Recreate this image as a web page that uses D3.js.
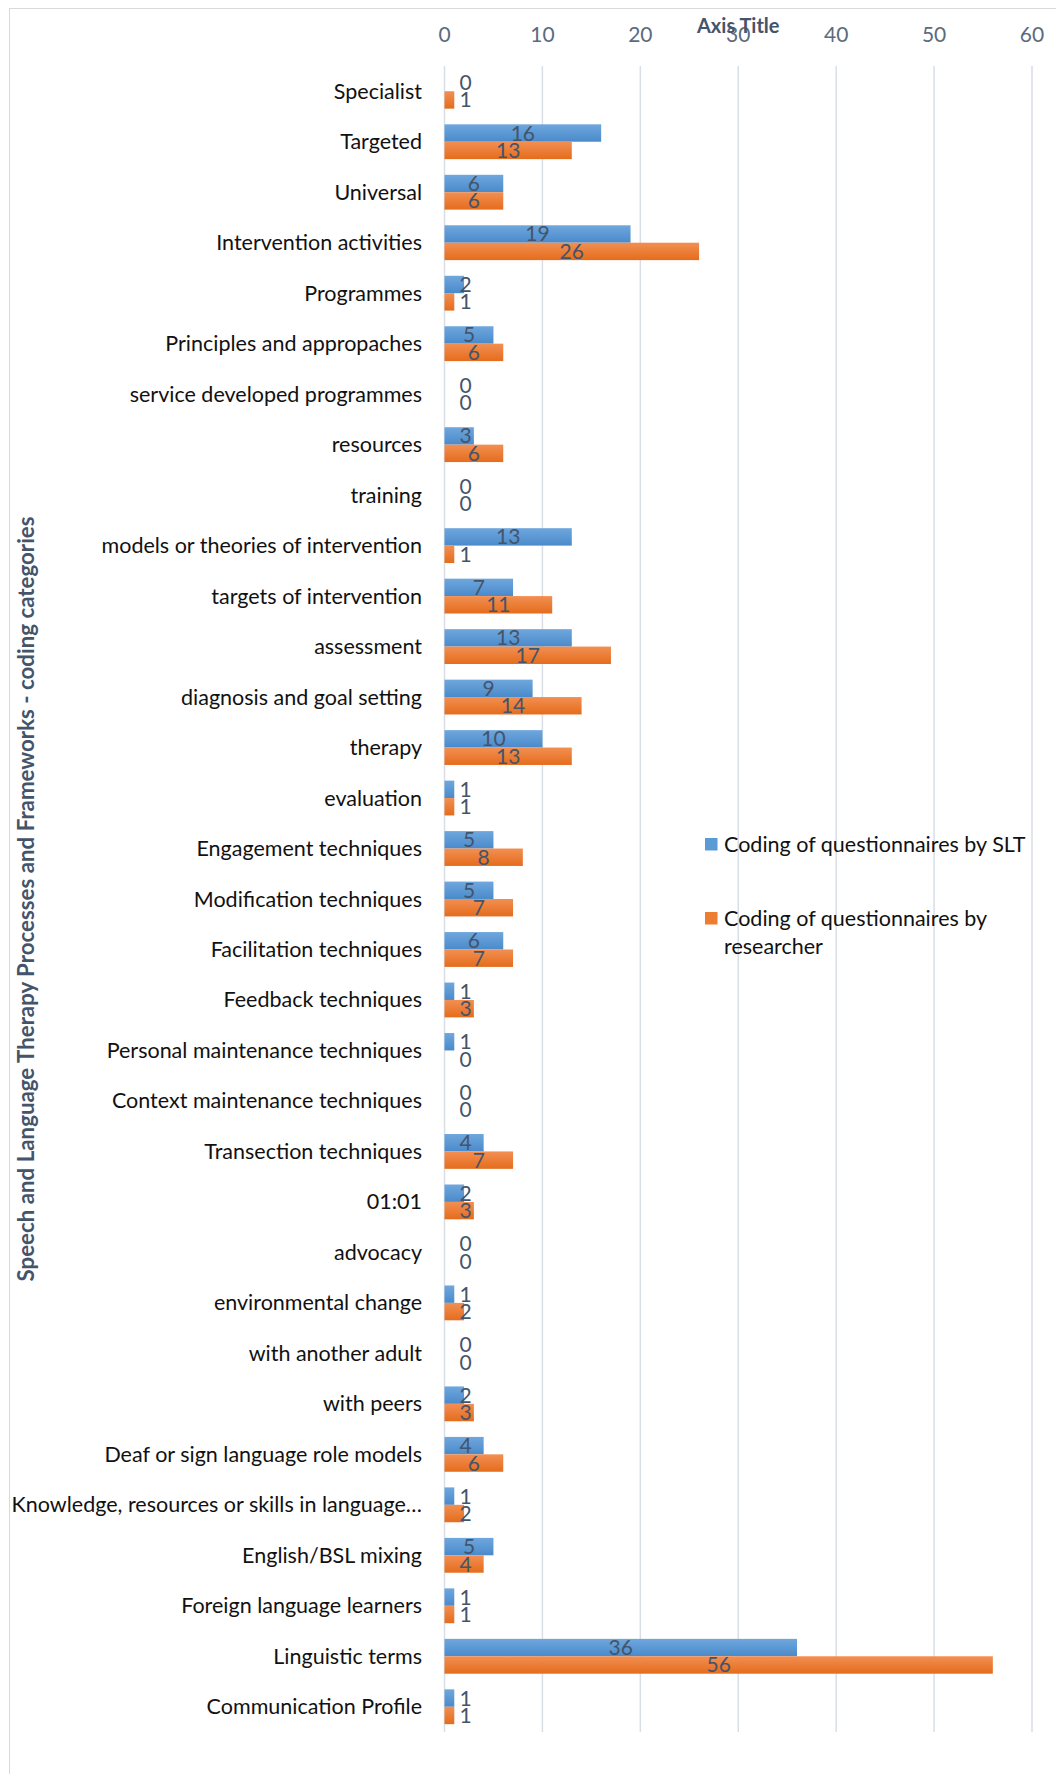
<!DOCTYPE html>
<html lang="en">
  <head>
    <meta charset="UTF-8" />
    <title>Coding categories - SLT vs researcher</title>
    <script src="https://d3js.org/d3.v7.min.js"></script>
    <style>
      body { margin: 0; background: #fff; }
      text { font-family: Lato, "Open Sans", sans-serif; }
    </style>
  </head>
  <body>
    <svg id="chart" width="1056" height="1774"></svg>
    <script>
      const categories = [
        "Specialist", "Targeted", "Universal", "Intervention activities", "Programmes",
        "Principles and appropaches", "service developed programmes", "resources", "training",
        "models or theories of intervention", "targets of intervention", "assessment",
        "diagnosis and goal setting", "therapy", "evaluation", "Engagement techniques",
        "Modification techniques", "Facilitation techniques", "Feedback techniques",
        "Personal maintenance techniques", "Context maintenance techniques",
        "Transection techniques", "01:01", "advocacy", "environmental change",
        "with another adult", "with peers", "Deaf or sign language role models",
        "Knowledge, resources or skills in language…", "English/BSL mixing",
        "Foreign language learners", "Linguistic terms", "Communication Profile"
      ];
      const slt = [0, 16, 6, 19, 2, 5, 0, 3, 0, 13, 7, 13, 9, 10, 1, 5, 5, 6, 1, 1, 0, 4, 2, 0, 1, 0, 2, 4, 1, 5, 1, 36, 1];
      const researcher = [1, 13, 6, 26, 1, 6, 0, 6, 0, 1, 11, 17, 14, 13, 1, 8, 7, 7, 3, 0, 0, 7, 3, 0, 2, 0, 3, 6, 2, 4, 1, 56, 1];
      const seriesNames = ["Coding of questionnaires by SLT", "Coding of questionnaires by researcher"];
      const xTicks = [0, 10, 20, 30, 40, 50, 60];

      const svg = d3.select("#chart");
      const plotLeft = 444.5, plotRight = 1032, plotTop = 66, plotBottom = 1732;
      const slate = "#44546A";

      // chart area border
      svg.append("rect")
        .attr("x", 9.5).attr("y", 8.5)
        .attr("width", 1100).attr("height", 1800)
        .attr("fill", "#fff").attr("stroke", "#D9D9D9");

      const defs = svg.append("defs");
      const grads = [["gBlue", "#6FA7DD", "#4A8ACB"], ["gOrange", "#F28F52", "#E56C1C"]];
      grads.forEach(([id, c1, c2]) => {
        const g = defs.append("linearGradient").attr("id", id)
          .attr("x1", 0).attr("y1", 0).attr("x2", 0).attr("y2", 1);
        g.append("stop").attr("offset", "0%").attr("stop-color", c1);
        g.append("stop").attr("offset", "100%").attr("stop-color", c2);
      });

      const x = d3.scaleLinear().domain([0, 60]).range([plotLeft, plotRight]);
      const y = d3.scaleBand().domain(categories).range([plotTop, plotBottom]).paddingInner(0.31).paddingOuter(0.155);
      const sub = d3.scaleBand().domain([0, 1]).range([0, y.bandwidth()]);

      // gridlines
      svg.append("g").selectAll("line").data(xTicks).join("line")
        .attr("x1", (d) => x(d)).attr("x2", (d) => x(d))
        .attr("y1", plotTop).attr("y2", plotBottom)
        .attr("stroke", "#D9DEE6").attr("stroke-width", 1.5);

      // top axis labels
      svg.append("g").selectAll("text").data(xTicks).join("text")
        .attr("x", (d) => x(d)).attr("y", 42)
        .attr("text-anchor", "middle")
        .attr("font-size", 21).attr("fill", "#5B6A80")
        .text((d) => d);

      svg.append("text")
        .attr("x", (plotLeft + plotRight) / 2).attr("y", 33)
        .attr("text-anchor", "middle")
        .attr("font-size", 20).attr("font-weight", "bold").attr("fill", slate)
        .text("Axis Title");

      // category labels
      svg.append("g").selectAll("text").data(categories).join("text")
        .attr("x", 422).attr("y", (d) => y(d) + y.bandwidth() / 2 + 7.5)
        .attr("text-anchor", "end")
        .attr("font-size", 21.5).attr("fill", "#111")
        .text((d) => d);

      // y axis title
      svg.append("text")
        .attr("transform", `translate(34,${(plotTop + plotBottom) / 2}) rotate(-90)`)
        .attr("text-anchor", "middle")
        .attr("font-size", 22.3).attr("font-weight", "bold").attr("fill", slate)
        .text("Speech and Language Therapy Processes and Frameworks - coding categories");

      const series = [slt, researcher];
      series.forEach((vals, si) => {
        const rows = categories.map((c, i) => ({ c, v: vals[i] }));
        svg.append("g").selectAll("rect").data(rows).join("rect")
          .attr("x", x(0))
          .attr("y", (d) => y(d.c) + sub(si))
          .attr("width", (d) => x(d.v) - x(0))
          .attr("height", sub.bandwidth())
          .attr("fill", si === 0 ? "url(#gBlue)" : "url(#gOrange)");

        svg.append("g").selectAll("text").data(rows).join("text")
          .attr("x", (d) => Math.max((x(0) + x(d.v)) / 2, x(0) + 21))
          .attr("y", (d) => y(d.c) + sub(si) + sub.bandwidth() / 2 + 7.5)
          .attr("text-anchor", "middle")
          .attr("font-size", 21).attr("fill", slate)
          .text((d) => d.v);
      });

      // legend
      const legend = svg.append("g");
      const legendColors = ["#5B9BD5", "#ED7D31"];
      const legendY = [844, 918];
      seriesNames.forEach((name, i) => {
        legend.append("rect")
          .attr("x", 705).attr("y", legendY[i] - 6)
          .attr("width", 12.5).attr("height", 12.5)
          .attr("fill", legendColors[i]);
        const t = legend.append("text")
          .attr("x", 724).attr("y", legendY[i] + 7.5)
          .attr("font-size", 21.5).attr("fill", "#111");
        if (i === 0) {
          t.text(name);
        } else {
          t.append("tspan").attr("x", 724).text("Coding of questionnaires by");
          t.append("tspan").attr("x", 724).attr("dy", 28).text("researcher");
        }
      });
    </script>
  </body>
</html>
